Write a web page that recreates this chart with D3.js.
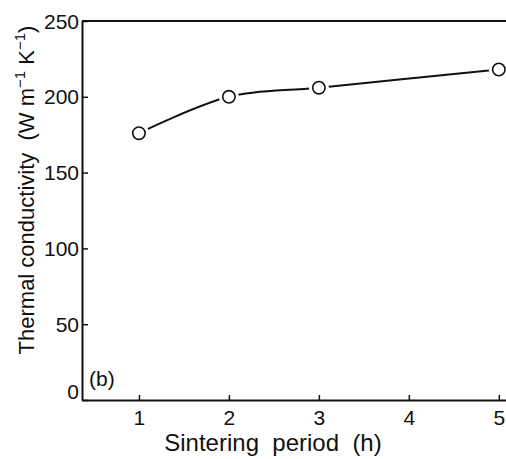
<!DOCTYPE html>
<html><head><meta charset="utf-8">
<script src="https://cdn.jsdelivr.net/npm/d3@7"></script>
<style>body{margin:0;background:#fff}svg{display:block}text{font-family:"Liberation Sans",Arial,sans-serif;fill:#111}</style>
</head><body><svg id="c" width="506" height="459"></svg>
<script>
const periods = [1, 2, 3, 5];
const conductivity = [176, 200, 206, 218];
const xTicks = [1, 2, 3, 4, 5];
const yTicks = [0, 50, 100, 150, 200, 250];
const xTitle = "Sintering  period  (h)";
const panelLabel = "(b)";

const svg = d3.select("#c");
const L = 82, T = 21, B = 400, R = 506;
const x = d3.scaleLinear().domain([0.367, 5.08]).range([L, R]);
const y = d3.scaleLinear().domain([0, 250]).range([B, T]);
const data = periods.map((p, i) => ({p, v: conductivity[i]}));

// axes
const xAxis = d3.axisBottom(x).tickValues(xTicks).tickSizeInner(-5).tickSizeOuter(0).tickPadding(10).tickFormat(d3.format("d"));
const gx = svg.append("g").attr("transform", `translate(0,${B})`).call(xAxis);
gx.select(".domain").attr("stroke", "#111").attr("stroke-width", 2);
gx.selectAll(".tick line").attr("stroke", "#111").attr("stroke-width", 1.5);
gx.selectAll(".tick text").attr("font-size", 21).attr("font-family", "Liberation Sans, Arial, sans-serif").attr("fill", "#111");

const yAxis = d3.axisLeft(y).tickValues(yTicks).tickSizeInner(-6).tickSizeOuter(0).tickPadding(3);
const gy = svg.append("g").attr("transform", `translate(${L},0)`).call(yAxis);
gy.select(".domain").attr("stroke", "#111").attr("stroke-width", 2);
gy.selectAll(".tick line").attr("stroke", "#111").attr("stroke-width", 1.5);
gy.selectAll(".tick text").attr("font-size", 21).attr("font-family", "Liberation Sans, Arial, sans-serif").attr("fill", "#111")
  .attr("dy", d => d === 0 ? "-0.05em" : "0.34em");

// top frame line
svg.append("line").attr("x1", L).attr("x2", R).attr("y1", y(250)).attr("y2", y(250)).attr("stroke", "#111").attr("stroke-width", 2);

// curve
const line = d3.line().x(d => x(d.p)).y(d => y(d.v)).curve(d3.curveCatmullRom.alpha(0.5));
svg.append("path").datum(data).attr("d", line).attr("fill", "none").attr("stroke", "#111").attr("stroke-width", 2);
// gaps around markers
svg.selectAll("circle.mask").data(data).enter().append("circle")
  .attr("cx", d => x(d.p)).attr("cy", d => y(d.v)).attr("r", 10).attr("fill", "#fff");
svg.selectAll("circle.pt").data(data).enter().append("circle")
  .attr("cx", d => x(d.p)).attr("cy", d => y(d.v)).attr("r", 6.2)
  .attr("fill", "#fff").attr("stroke", "#111").attr("stroke-width", 1.6);

// panel label
svg.append("text").attr("x", 89).attr("y", 386).attr("font-size", 21).text(panelLabel);

// x title
svg.append("text").attr("x", (157 + 389) / 2).attr("y", 451).attr("text-anchor", "middle")
  .attr("font-size", 24).style("white-space", "pre").text(xTitle);

// y title
const yt = svg.append("text").attr("transform", "translate(34,190) rotate(-90)").attr("text-anchor", "middle").attr("font-size", 22).style("white-space", "pre");
yt.append("tspan").text("Thermal conductivity  (W m");
yt.append("tspan").attr("font-size", 15).attr("dy", -9).text("\u22121");
yt.append("tspan").attr("dy", 9).text(" K");
yt.append("tspan").attr("font-size", 15).attr("dy", -9).text("\u22121");
yt.append("tspan").attr("dy", 9).text(")");
</script></body></html>
